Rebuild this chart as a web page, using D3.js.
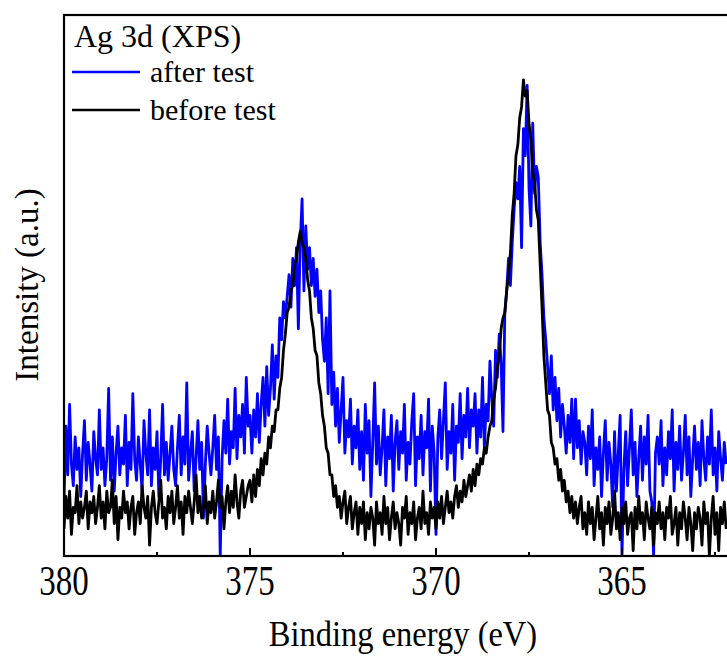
<!DOCTYPE html>
<html>
<head>
<meta charset="utf-8">
<script src="https://cdn.jsdelivr.net/npm/d3@7"></script>
<style>
  body { margin: 0; background: #fff; }
  text { font-family: "Liberation Serif", "Times New Roman", serif; fill: #000; }
</style>
</head>
<body>
<script>
// Ag 3d XPS spectra (0.05 eV sampling from 380 eV down)
var energyStart = 380, energyStep = 0.05;

// intensity in arbitrary units, 0 = bottom of frame, 100 = top
var beforeTest = [
  5, 11, 7, 12, 4, 9, 8, 13, 6, 10, 7, 9, 12, 5, 10, 8, 11, 6, 9, 13,
  7, 10, 5, 12, 8, 9, 14, 6, 11, 3, 9, 7, 12, 8, 10, 5, 9, 11, 4, 8,
  10, 6, 13, 9, 7, 11, 2, 9, 12, 8, 6, 10, 14, 7, 9, 5, 11, 8, 12, 6,
  9, 13, 7, 10, 4, 11, 8, 12, 9, 6, 10, 15, 8, 11, 7, 9, 13, 6, 10, 8,
  12, 7, 10, 14, 9, 11, 5, 10, 13, 8, 12, 9, 15, 10, 7, 12, 14, 9, 11, 13,
  14, 10, 15, 11, 16, 13, 18, 15, 19, 17, 22, 20, 24, 23, 27, 27, 31, 33, 38, 41,
  45, 46, 49, 50, 54, 55, 58, 60, 58, 57, 55, 51, 49, 44, 42, 38, 37, 32, 30, 26,
  24, 20, 19, 15, 15, 11, 13, 9, 11, 7, 10, 12, 6, 9, 11, 5, 8, 10, 4, 9,
  6, 10, 3, 8, 5, 9, 7, 2, 10, 6, 8, 4, 11, 6, 9, 3, 7, 10, 5, 8,
  6, 2, 9, 7, 11, 4, 8, 6, 10, 3, 7, 9, 5, 12, 6, 8, 4, 10, 7, 9,
  5, 10, 7, 11, 6, 9, 12, 8, 10, 7, 11, 13, 9, 12, 10, 14, 11, 13, 15, 12,
  16, 13, 17, 15, 18, 17, 20, 19, 22, 24, 25, 29, 31, 35, 37, 42, 44, 45, 49, 52,
  56, 63, 67, 74, 76, 81, 83, 88, 85, 86, 80, 77, 71, 69, 64, 62, 54, 46, 37, 32,
  27, 26, 21, 20, 17, 18, 14, 16, 12, 14, 10, 12, 8, 11, 7, 10, 6, 9, 11, 5,
  8, 4, 10, 6, 9, 3, 7, 11, 5, 8, 2, 9, 6, 10, 4, 7, 12, 5, 8, 3,
  9, 6, 10, 4, 7, 8, 1, 9, 5, 11, 6, 8, 3, 10, 7, 5, 9, 2, 8, 6,
  10, 5, 8, 3, 9, 7, 11, 4, 6, 9, 2, 8, 5, 10, 7, 3, 9, 6, 1, 8,
  5, 9, 7, 2, 10, 6, 8, 0, 7, 11, 4, 8, 1, 9, 6, 10, 5
];

var afterTest = [
  10, 24, 15, 28, 17, 13, 22, 16, 20, 11, 19, 25, 14, 21, 17, 12, 23, 18, 15, 27,
  16, 20, 13, 18, 31, 14, 22, 12, 19, 24, 15, 20, 17, 26, 13, 21, 16, 30, 18, 14,
  22, 17, 12, 25, 19, 15, 27, 13, 20, 16, 23, 11, 18, 28, 15, 21, 14, 19, 24, 16,
  13, 20, 26, 15, 22, 17, 32, 14, 19, 23, 12, 18, 25, 16, 21, 7, 17, 24, 19, 15,
  20, 26, 16, 22, 0, 18, 25, 19, 29, 17, 23, 20, 31, 18, 26, 22, 28, 19, 33, 24,
  26, 19, 27, 22, 30, 21, 28, 33, 24, 35, 26, 31, 39, 29, 37, 33, 44, 40, 47, 44,
  48, 52, 46, 55, 50, 57, 42, 58, 66, 49, 61, 53, 57, 50, 55, 48, 53, 45, 49, 40,
  36, 44, 30, 49, 28, 34, 24, 31, 21, 27, 33, 19, 25, 22, 29, 17, 24, 20, 27, 16,
  23, 14, 28, 19, 25, 11, 21, 32, 17, 24, 15, 20, 27, 13, 22, 18, 26, 12, 21, 25,
  16, 23, 19, 28, 14, 21, 17, 25, 30, 13, 22, 18, 26, 15, 23, 20, 29, 12, 24, 19,
  4, 22, 27, 18, 25, 32, 16, 23, 19, 28, 14, 24, 21, 30, 18, 26, 22, 31, 20, 27,
  24, 30, 19, 27, 22, 33, 20, 28, 25, 36, 29, 24, 38, 33, 41, 36, 23, 45, 49, 55,
  50, 58, 64, 69, 66, 72, 57, 79, 74, 87, 68, 61, 80, 67, 72, 70, 58, 52, 44, 40,
  35, 30, 37, 27, 33, 25, 31, 22, 28, 24, 19, 26, 21, 29, 18, 29, 20, 25, 17, 23,
  21, 15, 24, 18, 27, 13, 20, 16, 22, 11, 19, 25, 14, 21, 17, 9, 23, 12, 19, 26,
  0, 16, 23, 13, 20, 27, 15, 21, 11, 18, 24, 14, 22, 17, 26, 12, 10, 0, 19, 22,
  17, 25, 13, 20, 15, 23, 18, 27, 12, 21, 16, 24, 14, 19, 26, 15, 22, 11, 18, 24,
  16, 21, 13, 25, 18, 14, 22, 17, 27, 15, 20, 12, 23, 18, 14, 21, 17
];

var majorTicks = [380, 375, 370, 365];
var minorTicks = [377.5, 372.5, 367.5, 362.5];
var seriesNames = ["after test", "before test"];
var seriesColors = ["#0000ff", "#000000"];

var energy = d3.range(beforeTest.length).map(function(i) { return energyStart - i * energyStep; });

var W = 727, H = 657;
var margin = {top: 15, left: 64, bottom: 556};

var svg = d3.select("body").append("svg")
  .attr("width", W)
  .attr("height", H);

// x runs right-to-left in energy; the frame continues past the picture edge
var x = d3.scaleLinear().domain([380, 362]).range([margin.left, margin.left + 18 * 37.2]);
var y = d3.scaleLinear().domain([0, 100]).range([margin.bottom, margin.top]);

svg.append("clipPath").attr("id", "plotclip")
  .append("rect")
    .attr("x", margin.left)
    .attr("y", margin.top)
    .attr("width", W - margin.left)
    .attr("height", margin.bottom - margin.top);

var line = d3.line()
  .x(function(d) { return x(d[0]); })
  .y(function(d) { return y(d[1]); });

[afterTest, beforeTest].forEach(function(vals, k) {
  svg.append("path")
    .datum(vals.map(function(v, i) { return [energy[i], v]; }))
    .attr("clip-path", "url(#plotclip)")
    .attr("fill", "none")
    .attr("stroke", seriesColors[k])
    .attr("stroke-width", 2.8)
    .attr("stroke-linejoin", "round")
    .attr("d", line);
});

// frame
svg.append("rect")
  .attr("x", margin.left)
  .attr("y", margin.top)
  .attr("width", x(362) - margin.left)
  .attr("height", margin.bottom - margin.top)
  .attr("fill", "none")
  .attr("stroke", "#000")
  .attr("stroke-width", 2.2);

// inward ticks on the bottom axis
svg.selectAll(".major")
  .data(majorTicks)
  .enter()
  .append("line")
    .attr("x1", function(d) { return x(d); })
    .attr("x2", function(d) { return x(d); })
    .attr("y1", margin.bottom)
    .attr("y2", margin.bottom - 8)
    .attr("stroke", "#000")
    .attr("stroke-width", 2);

svg.selectAll(".minor")
  .data(minorTicks)
  .enter()
  .append("line")
    .attr("x1", function(d) { return x(d); })
    .attr("x2", function(d) { return x(d); })
    .attr("y1", margin.bottom)
    .attr("y2", margin.bottom - 4)
    .attr("stroke", "#000")
    .attr("stroke-width", 2);

svg.selectAll(".ticklabel")
  .data(majorTicks)
  .enter()
  .append("text")
    .attr("transform", function(d) { return "translate(" + x(d) + ",595) scale(1,1.25)"; })
    .attr("text-anchor", "middle")
    .attr("font-size", "33px")
    .text(function(d) { return d; });

// axis titles
svg.append("text")
  .attr("transform", "translate(403,646) scale(1,1.1)")
  .attr("text-anchor", "middle")
  .attr("font-size", "32.5px")
  .text("Binding energy (eV)");

svg.append("text")
  .attr("transform", "translate(38,285) rotate(-90)")
  .attr("text-anchor", "middle")
  .attr("font-size", "33px")
  .text("Intensity (a.u.)");

// legend
svg.append("text")
  .attr("x", 74)
  .attr("y", 47)
  .attr("font-size", "32px")
  .text("Ag 3d (XPS)");

var legend = svg.selectAll(".legend")
  .data(seriesNames)
  .enter()
  .append("g")
    .attr("transform", function(d, i) { return "translate(0," + (72 + i * 38) + ")"; });

legend.append("line")
  .attr("x1", 72)
  .attr("x2", 140)
  .attr("stroke", function(d, i) { return seriesColors[i]; })
  .attr("stroke-width", 2.6);

legend.append("text")
  .attr("x", 150)
  .attr("y", 10)
  .attr("font-size", "30px")
  .text(function(d) { return d; });
</script>
</body>
</html>
